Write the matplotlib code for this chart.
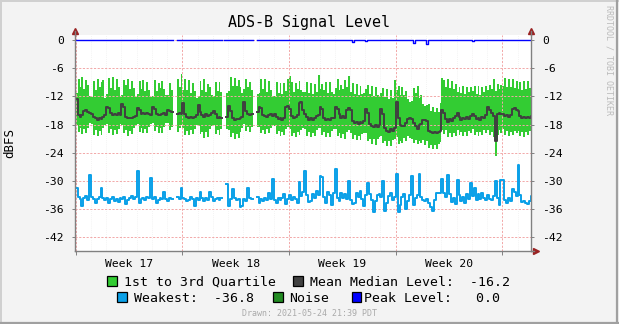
import numpy as np
import matplotlib
matplotlib.use("Agg")
import matplotlib.pyplot as plt
from matplotlib.patches import Rectangle
from matplotlib.lines import Line2D

plt.rcParams['font.family'] = ['DejaVu Sans Mono']

W, H = 619, 324
nan = float('nan')

# ---------------- data (3-hour steps, 8 per day, 30 days) ----------------
SLOTS_PER_DAY = 8
title = "ADS-B Signal Level"
y_label = "dBFS"
week_labels = ["Week 17", "Week 18", "Week 19", "Week 20"]
week_starts = [0, 7, 14, 21, 28]
y_ticks = [0, -6, -12, -18, -24, -30, -36, -42]

q3 = [
    -11.2, -8.3, -9.9, -7.9, -10.4, -8.5, -9.6, -12.0,
    -12.1, -8.7, -10.6, -8.2, -10.1, -9.0, -8.6, -12.3,
    -11.4, -8.1, -10.2, -7.8, -10.7, -8.4, -9.9, -11.9,
    -11.8, -8.5, -9.6, -8.3, -10.5, -8.8, -10.3, -12.1,
    -11.6, -8.8, -10.4, -8.6, -10.9, -8.9, -10.6, -12.2,
    -12.0, -8.6, -10.8, -9.2, -10.2, -8.7, -10.4, -11.8,
    -11.7, -9.1, -10.6, nan, nan, -8.4, -10.0, -7.2,
    -10.6, -8.4, -10.7, -8.6, -11.2, -9.1, -10.8, -12.3,
    -12.0, -8.8, -10.6, -8.3, -11.0, -9.4, -10.1, -11.8,
    -11.9, -8.9, -10.9, -9.0, -11.1, nan, nan, -11.2,
    -10.9, -7.8, -9.8, -8.1, -9.7, -8.5, -9.9, -11.3,
    -10.5, -8.2, -10.1, -9.0, -10.6, nan, nan, -11.4,
    -11.2, -8.3, -10.4, -8.4, -11.0, -8.7, -10.6, -11.9,
    -11.9, -9.0, -11.2, -9.1, -11.4, -9.2, -10.8, -8.2,
    -7.7, -9.0, -11.0, -9.2, -10.5, -8.8, -10.6, -11.0,
    -11.1, -9.0, -11.3, -9.1, -11.4, -9.3, -11.0, -7.5,
    -10.5, -9.4, -10.6, -9.0, -11.2, -8.9, -11.0, -11.4,
    -10.3, -8.4, -10.7, -9.6, -10.4, -8.6, -10.1, -7.7,
    -11.1, -9.2, -11.5, -9.4, -11.8, -9.7, -11.6, -11.3,
    -10.5, -9.6, -11.6, -9.7, -12.0, -10.0, -11.7, -12.2,
    -11.3, -10.2, -12.2, -10.4, -12.6, -10.7, -12.3, -8.6,
    -10.6, -9.8, -11.8, -10.0, -11.7, -10.8, -12.5, -13.2,
    -13.0, -10.3, -11.2, -9.8, -12.3, -11.8, -13.6, -14.0,
    -13.8, -13.6, -15.2, -14.3, -15.3, -14.4, -15.4, -13.5,
    -8.0, -8.6, -10.0, -8.3, -10.3, -8.7, -10.5, -9.4,
    -11.0, -9.9, -11.2, -9.7, -11.5, -10.1, -11.1, -10.0,
    -10.8, -9.8, -11.6, -9.7, -11.7, -10.0, -11.0, -9.8,
    -10.6, -9.5, -10.4, -8.2, -10.9, -9.4, -10.5, -9.6,
    -9.8, -8.1, -10.1, -8.3, -9.9, -8.4, -10.3, -8.8,
    -10.5, -8.9, -10.6, -8.8, -10.4, -8.7, -10.2, -8.6,
]

q1 = [
    -18.0, -19.6, -18.8, -20.0, -19.0, -19.8, -18.7, -17.7,
    -17.9, -20.3, -19.1, -20.5, -19.4, -20.2, -18.8, -18.1,
    -17.8, -19.9, -19.0, -20.3, -19.2, -20.0, -18.9, -17.9,
    -18.0, -19.8, -19.1, -20.4, -19.3, -20.1, -18.7, -18.0,
    -17.8, -19.5, -18.7, -19.9, -18.9, -19.7, -18.6, -17.8,
    -17.6, -19.4, -18.6, -19.8, -18.8, -19.9, -18.5, -17.7,
    -17.7, -19.2, -18.5, nan, nan, -19.6, -18.7, -18.0,
    -18.8, -20.2, -19.3, -20.3, -19.2, -20.1, -18.9, -18.1,
    -18.3, -20.0, -19.5, -20.9, -19.6, -20.7, -19.0, -18.3,
    -18.2, -20.0, -19.2, -20.2, -19.0, nan, nan, -19.0,
    -19.2, -20.7, -19.9, -21.0, -20.0, -20.8, -19.6, -18.8,
    -17.9, -19.4, -18.6, -19.6, -18.5, nan, nan, -18.6,
    -18.5, -19.9, -19.1, -20.1, -19.0, -19.8, -18.7, -18.2,
    -18.3, -20.0, -19.4, -20.5, -19.5, -20.3, -19.0, -18.6,
    -18.9, -20.5, -19.7, -20.7, -19.5, -20.2, -19.1, -18.8,
    -19.0, -20.4, -19.6, -20.6, -19.7, -20.4, -19.2, -18.7,
    -18.7, -20.3, -19.6, -20.6, -19.7, -20.6, -19.4, -18.9,
    -19.0, -20.5, -19.8, -20.9, -20.0, -21.0, -19.6, -19.2,
    -19.7, -21.1, -20.3, -21.3, -20.4, -21.3, -20.0, -19.8,
    -19.9, -21.4, -21.0, -22.2, -21.0, -22.3, -21.1, -20.7,
    -20.5, -22.0, -21.5, -22.5, -21.4, -22.5, -21.3, -21.0,
    -20.7, -22.1, -21.4, -22.0, -20.8, -21.4, -20.4, -20.9,
    -21.0, -21.9, -21.2, -22.2, -21.4, -22.0, -21.3, -22.3,
    -21.6, -23.0, -22.4, -23.3, -22.3, -23.2, -22.2, -21.8,
    -19.1, -20.1, -19.2, -20.6, -19.8, -20.6, -19.7, -20.4,
    -19.1, -20.3, -19.5, -20.4, -19.6, -20.4, -19.3, -19.9,
    -19.0, -20.2, -19.5, -20.4, -19.5, -20.2, -19.1, -19.8,
    -19.1, -20.3, -19.5, -20.6, -24.6, -20.2, -19.2, -19.9,
    -18.9, -20.2, -19.4, -20.4, -19.5, -20.3, -19.3, -19.9,
    -19.3, -20.5, -19.5, -20.6, -19.6, -20.3, -19.4, -20.3,
]

median = [
    -12.5, -15.9, -16.3, -16.0, -15.2, -14.9, -15.4, -15.6,
    -15.8, -16.4, -16.6, -17.1, -16.5, -16.8, -16.3, -15.9,
    -14.3, -14.5, -15.6, -15.9, -15.7, -16.0, -15.6, -15.9,
    -13.7, -14.2, -16.4, -16.7, -16.5, -16.6, -16.4, -16.2,
    -14.4, -14.9, -15.8, -15.6, -15.7, -15.5, -15.8, -15.9,
    -14.2, -14.6, -15.7, -15.9, -16.0, -15.8, -15.5, -15.9,
    -15.0, -15.2, -15.4, nan, nan, -15.8, -15.6, -15.7,
    -13.4, -15.7, -16.3, -16.5, -16.4, -16.6, -16.3, -16.0,
    -13.9, -15.4, -16.0, -16.4, -15.8, -16.2, -16.0, -15.6,
    -15.2, -15.8, -16.6, -16.3, -16.5, nan, nan, -16.4,
    -14.0, -15.2, -16.7, -17.0, -16.8, -16.9, -16.6, -16.4,
    -13.2, -15.1, -15.7, -15.9, -15.8, nan, nan, -15.4,
    -14.2, -14.5, -15.9, -16.2, -16.4, -16.0, -15.8, -16.1,
    -15.8, -16.3, -16.9, -16.6, -17.0, -16.5, -14.3, -14.0,
    -14.6, -16.2, -16.5, -16.4, -16.0, -13.4, -13.2, -15.0,
    -15.8, -16.4, -17.0, -16.7, -17.1, -16.6, -16.2, -15.9,
    -14.3, -14.6, -16.6, -17.0, -16.8, -17.1, -16.7, -16.5,
    -14.2, -14.6, -15.8, -16.6, -16.2, -16.5, -14.8, -14.5,
    -15.0, -17.2, -17.6, -17.5, -17.8, -17.4, -17.6, -17.3,
    -14.7, -15.6, -17.9, -18.4, -18.6, -18.2, -18.5, -18.0,
    -14.6, -15.8, -18.7, -19.3, -19.6, -19.0, -19.4, -18.8,
    -13.1, -16.5, -18.2, -18.4, -18.3, -17.6, -16.8, -16.6,
    -16.9, -17.6, -18.4, -18.9, -18.2, -17.8, -17.1, -17.0,
    -17.2, -19.3, -19.6, -19.8, -19.5, -19.7, -19.6, -19.4,
    -15.0, -15.6, -16.8, -17.4, -16.9, -17.2, -16.5, -16.2,
    -15.6, -16.4, -17.0, -16.6, -16.9, -16.3, -16.8, -16.1,
    -15.8, -16.2, -16.9, -16.5, -17.0, -16.4, -16.7, -16.0,
    -14.3, -14.8, -15.6, -16.2, -21.4, -15.8, -15.6, -15.7,
    -15.8, -16.1, -15.9, -16.3, -16.0, -14.6, -14.5, -14.8,
    -15.2, -16.2, -16.6, -16.4, -16.7, -16.3, -16.5, -16.1,
]

weakest = [
    -31.6, -33.4, -33.8, -35.3, -33.6, -33.2, -34.0, -28.7,
    -33.5, -33.9, -34.7, -33.8, -33.4, -31.4, -33.7, -34.1,
    -33.6, -34.6, -33.9, -33.5, -34.2, -33.8, -34.4, -33.6,
    -33.9, -33.4, -35.0, -34.1, -33.6, -33.3, -33.8, -33.5,
    -27.9, -34.7, -33.9, -33.6, -34.0, -33.4, -33.7, -29.4,
    -33.8, -33.5, -34.7, -34.0, -33.6, -33.9, -32.3, -33.8,
    -34.2, -33.6, -33.9, nan, nan, -33.4, -33.8, -31.6,
    -33.6, -33.9, -34.3, -34.0, -33.5, -33.8, -35.3, -33.6,
    -34.1, -32.3, -33.7, -34.3, -33.6, -34.0, -32.3, -33.5,
    -34.2, -33.8, -33.6, -34.0, -33.7, nan, nan, -30.6,
    -35.3, -33.9, -31.8, -33.6, -34.1, -33.8, -35.6, -35.4,
    -33.9, -34.2, -31.5, -33.6, -33.8, nan, nan, -33.5,
    -34.7, -33.9, -34.2, -33.6, -34.0, -32.6, -33.8, -29.6,
    -34.1, -34.8, -33.7, -34.0, -33.6, -32.8, -35.0, -33.9,
    -33.0, -34.1, -33.5, -33.8, -34.6, -30.2, -33.2, -32.4,
    -27.8, -33.1, -34.5, -34.3, -32.8, -33.6, -32.2, -33.0,
    -28.9, -29.2, -33.4, -34.7, -32.4, -33.1, -35.2, -32.6,
    -27.4, -33.6, -34.2, -32.5, -33.7, -32.8, -33.9, -30.1,
    -34.1, -35.0, -34.8, -32.6, -33.4, -32.2, -33.8, -35.3,
    -33.1, -30.4, -32.7, -34.0, -36.7, -34.2, -33.0, -32.8,
    -33.5, -30.1, -36.4, -34.8, -33.2, -32.6, -34.1, -33.4,
    -28.6, -36.7, -35.1, -33.4, -32.8, -36.0, -34.2, -33.0,
    -29.0, -35.2, -33.6, -32.9, -28.6, -33.5, -34.0, -34.3,
    -33.8, -34.6, -35.5, -36.3, -34.0, -32.6, -32.6, -32.6,
    -29.6, -32.6, -33.4, -28.8, -32.8, -34.4, -33.6, -35.0,
    -29.9, -32.9, -34.3, -33.5, -34.6, -32.7, -33.8, -30.4,
    -33.2, -31.6, -34.0, -32.8, -33.9, -32.5, -33.6, -34.1,
    -32.9, -33.8, -34.0, -33.3, -30.1, -33.6, -35.1, -29.7,
    -29.8, -34.0, -34.6, -33.7, -34.3, -31.8, -32.4, -33.2,
    -26.6, -33.0, -34.5, -34.2, -34.7, -34.9, -34.3, -33.3,
]

peak = [
    0, 0, 0, 0, 0, 0, 0, 0,
    0, 0, 0, 0, 0, 0, 0, 0,
    0, 0, 0, 0, 0, 0, 0, 0,
    0, 0, 0, 0, 0, 0, 0, 0,
    0, 0, 0, 0, 0, 0, 0, 0,
    0, 0, 0, 0, 0, 0, 0, 0,
    0, 0, 0, nan, nan, 0, 0, 0,
    0, 0, 0, 0, 0, 0, 0, 0,
    0, 0, 0, 0, 0, 0, 0, 0,
    0, 0, 0, 0, 0, nan, 0, 0,
    0, 0, 0, 0, 0, 0, 0, 0,
    0, 0, 0, 0, 0, nan, nan, 0,
    0, 0, 0, 0, 0, 0, 0, 0,
    0, 0, 0, 0, 0, 0, 0, 0,
    0, 0, 0, 0, 0, 0, 0, 0,
    0, 0, 0, 0, 0, 0, 0, 0,
    0, 0, 0, 0, 0, 0, 0, 0,
    0, 0, 0, 0, 0, 0, 0, 0,
    0, -0.35, 0, 0, 0, 0, 0, 0,
    -0.3, 0, 0, 0, 0, 0, 0, 0,
    0, 0, 0, 0, 0, 0, 0, 0,
    0, 0, 0, 0, 0, 0, 0, 0,
    0, -0.6, 0, 0, 0, 0, 0, 0,
    -0.9, 0, 0, 0, 0, 0, 0, 0,
    0, 0, 0, 0, 0, 0, 0, 0,
    0, 0, 0, 0, 0, 0, 0, 0,
    -0.3, 0, 0, 0, 0, 0, 0, 0,
    0, 0, 0, 0, 0, 0, 0, 0,
    0, 0, 0, 0, 0, 0, 0, 0,
    0, 0, 0, 0, 0, 0, 0, 0,
]

mean_median_text = "-16.2"
weakest_text = "-36.8"
peak_text = "0.0"
drawn_text = "Drawn: 2021-05-24 21:39 PDT"
credit_text = "RRDTOOL / TOBI OETIKER"

# ---------------- styles ----------------
C_GREEN = '#33CC33'
C_MEDIAN = '#404040'
C_WEAK = '#0AA0E8'
C_NOISE = '#228B22'
C_PEAK = '#0000FF'
C_GRID = '#F2A8A8'
C_AXIS = '#808080'
C_ARROW = '#992222'
BG = '#F3F3F3'


def steps(values):
    v = np.asarray(values, dtype=float)
    edges = np.arange(len(v) + 1) / SLOTS_PER_DAY
    xs = np.repeat(edges, 2)[1:-1]
    ys = np.repeat(v, 2)
    return xs, ys


fig = plt.figure(figsize=(W / 100, H / 100), dpi=100, facecolor=BG)

def fx(px):
    return px / W

def fy(py):
    return 1 - py / H

ax_l, ax_r, ax_t, ax_b = 75.0, 531.3, 34.5, 250.7
ax = fig.add_axes([fx(ax_l), fy(ax_b), fx(ax_r) - fx(ax_l), fy(ax_t) - fy(ax_b)])
ax.set_facecolor('white')

xs, lo = steps(q1)
_, hi = steps(q3)
ax.fill_between(xs, lo, hi, color=C_GREEN, lw=0, zorder=1)
mx, my = steps(median)
ax.plot(mx, my, color=C_MEDIAN, lw=1.4, zorder=2)
wx, wy = steps(weakest)
ax.plot(wx, wy, color=C_WEAK, lw=1.4, zorder=2)
px_, py_ = steps(peak)
ax.plot(px_, py_, color=C_PEAK, lw=1.0, zorder=2.2)

ax.set_xlim(-0.05, 29.9)
ax.set_ylim(-44.85, 1.17)

# grids
ax.set_yticks(y_ticks)
ax.set_yticklabels([str(t) for t in y_ticks])
ax.set_xticks(week_starts)
ax.set_xticklabels([''] * len(week_starts))
ax.set_xticks([w + 3.5 for w in week_starts[:4]], minor=True)
ax.set_xticklabels(week_labels, minor=True)
for d in range(1, 30):
    if d % 7:
        ax.axvline(d, color='#F0F0F0', lw=0.6, ls=(0, (1, 1.5)), zorder=0.5)
ax.grid(True, which='major', axis='both', color=C_GRID, lw=0.7,
        ls=(0, (2.2, 1.6)), zorder=1.5)
for gl in ax.get_xgridlines() + ax.get_ygridlines():
    gl.set_zorder(1.5)

ax.tick_params(axis='y', which='major', left=True, right=True, labelleft=True,
               labelright=True, length=2, width=0.7, color=C_AXIS,
               labelsize=8.2, pad=6)
ax.tick_params(axis='x', which='major', length=3, width=0.7, color=C_AXIS,
               direction='out')
ax.tick_params(axis='x', which='minor', length=0, labelsize=8.2, pad=6)

ax.spines['top'].set_visible(False)
for s in ['left', 'right', 'bottom']:
    ax.spines[s].set_color(C_AXIS)
    ax.spines[s].set_linewidth(1.0)

# arrows
fig.add_artist(Line2D([fx(ax_l)], [fy(30.5)], marker='^', ms=4.0, color=C_ARROW,
                      mec=C_ARROW, transform=fig.transFigure))
fig.add_artist(Line2D([fx(ax_r)], [fy(30.5)], marker='^', ms=4.0, color=C_ARROW,
                      mec=C_ARROW, transform=fig.transFigure))
fig.add_artist(Line2D([fx(535.5)], [fy(ax_b)], marker='>', ms=4.0, color=C_ARROW,
                      mec=C_ARROW, transform=fig.transFigure))
fig.add_artist(Line2D([fx(ax_l), fx(ax_l)], [fy(ax_t), fy(31)], color=C_AXIS, lw=1.0,
                      transform=fig.transFigure))
fig.add_artist(Line2D([fx(ax_r), fx(ax_r)], [fy(ax_t), fy(31)], color=C_AXIS, lw=1.0,
                      transform=fig.transFigure))
fig.add_artist(Line2D([fx(ax_r), fx(534)], [fy(ax_b), fy(ax_b)], color=C_AXIS, lw=1.0,
                      transform=fig.transFigure))

# texts
fig.text(fx(309.5), fy(23), title, ha='center', va='center', fontsize=10.8)
fig.text(fx(10), fy(142.6), y_label, ha='center', va='center', rotation=90,
         fontsize=9)
fig.text(fx(309.5), fy(316), drawn_text, ha='center', va='baseline',
         fontsize=6, color='#AAAAAA')
fig.text(fx(609.5), fy(5), credit_text, ha='center', va='top', rotation=270,
         fontsize=6, color='#BBBBBB')

LFS = 9.5

def legend_item(x_sq, y_base, color, text, x_text):
    sq = Rectangle((fx(x_sq), fy(y_base)), fx(9.3), 10 / H,
                   transform=fig.transFigure, facecolor=color,
                   edgecolor='black', lw=0.9)
    fig.add_artist(sq)
    fig.text(fx(x_text), fy(y_base), text, ha='left', va='baseline', fontsize=LFS)

legend_item(107.3, 286, C_GREEN, "1st to 3rd Quartile", 123.5)
legend_item(293.3, 286, C_MEDIAN, "Mean Median Level:  " + mean_median_text, 309.5)
legend_item(117.3, 301.7, C_WEAK, "Weakest:  " + weakest_text, 133.5)
legend_item(273.3, 301.7, C_NOISE, "Noise", 289.5)
legend_item(351.7, 301.7, C_PEAK, "Peak Level:   " + peak_text, 364.5)

# frame
fig.add_artist(Line2D([0, 1], [fy(0.5), fy(0.5)], color='#D0D0D0', lw=1.4,
                      transform=fig.transFigure))
fig.add_artist(Line2D([fx(0.5), fx(0.5)], [0, 1], color='#D0D0D0', lw=1.4,
                      transform=fig.transFigure))
fig.add_artist(Line2D([0, 1], [fy(322.5), fy(322.5)], color='#A0A0A0', lw=1.6,
                      transform=fig.transFigure))
fig.add_artist(Line2D([fx(617.3), fx(617.3)], [0, 1], color='#A0A0A0', lw=1.6,
                      transform=fig.transFigure))

fig.savefig('out.png', dpi=100, facecolor=BG)
